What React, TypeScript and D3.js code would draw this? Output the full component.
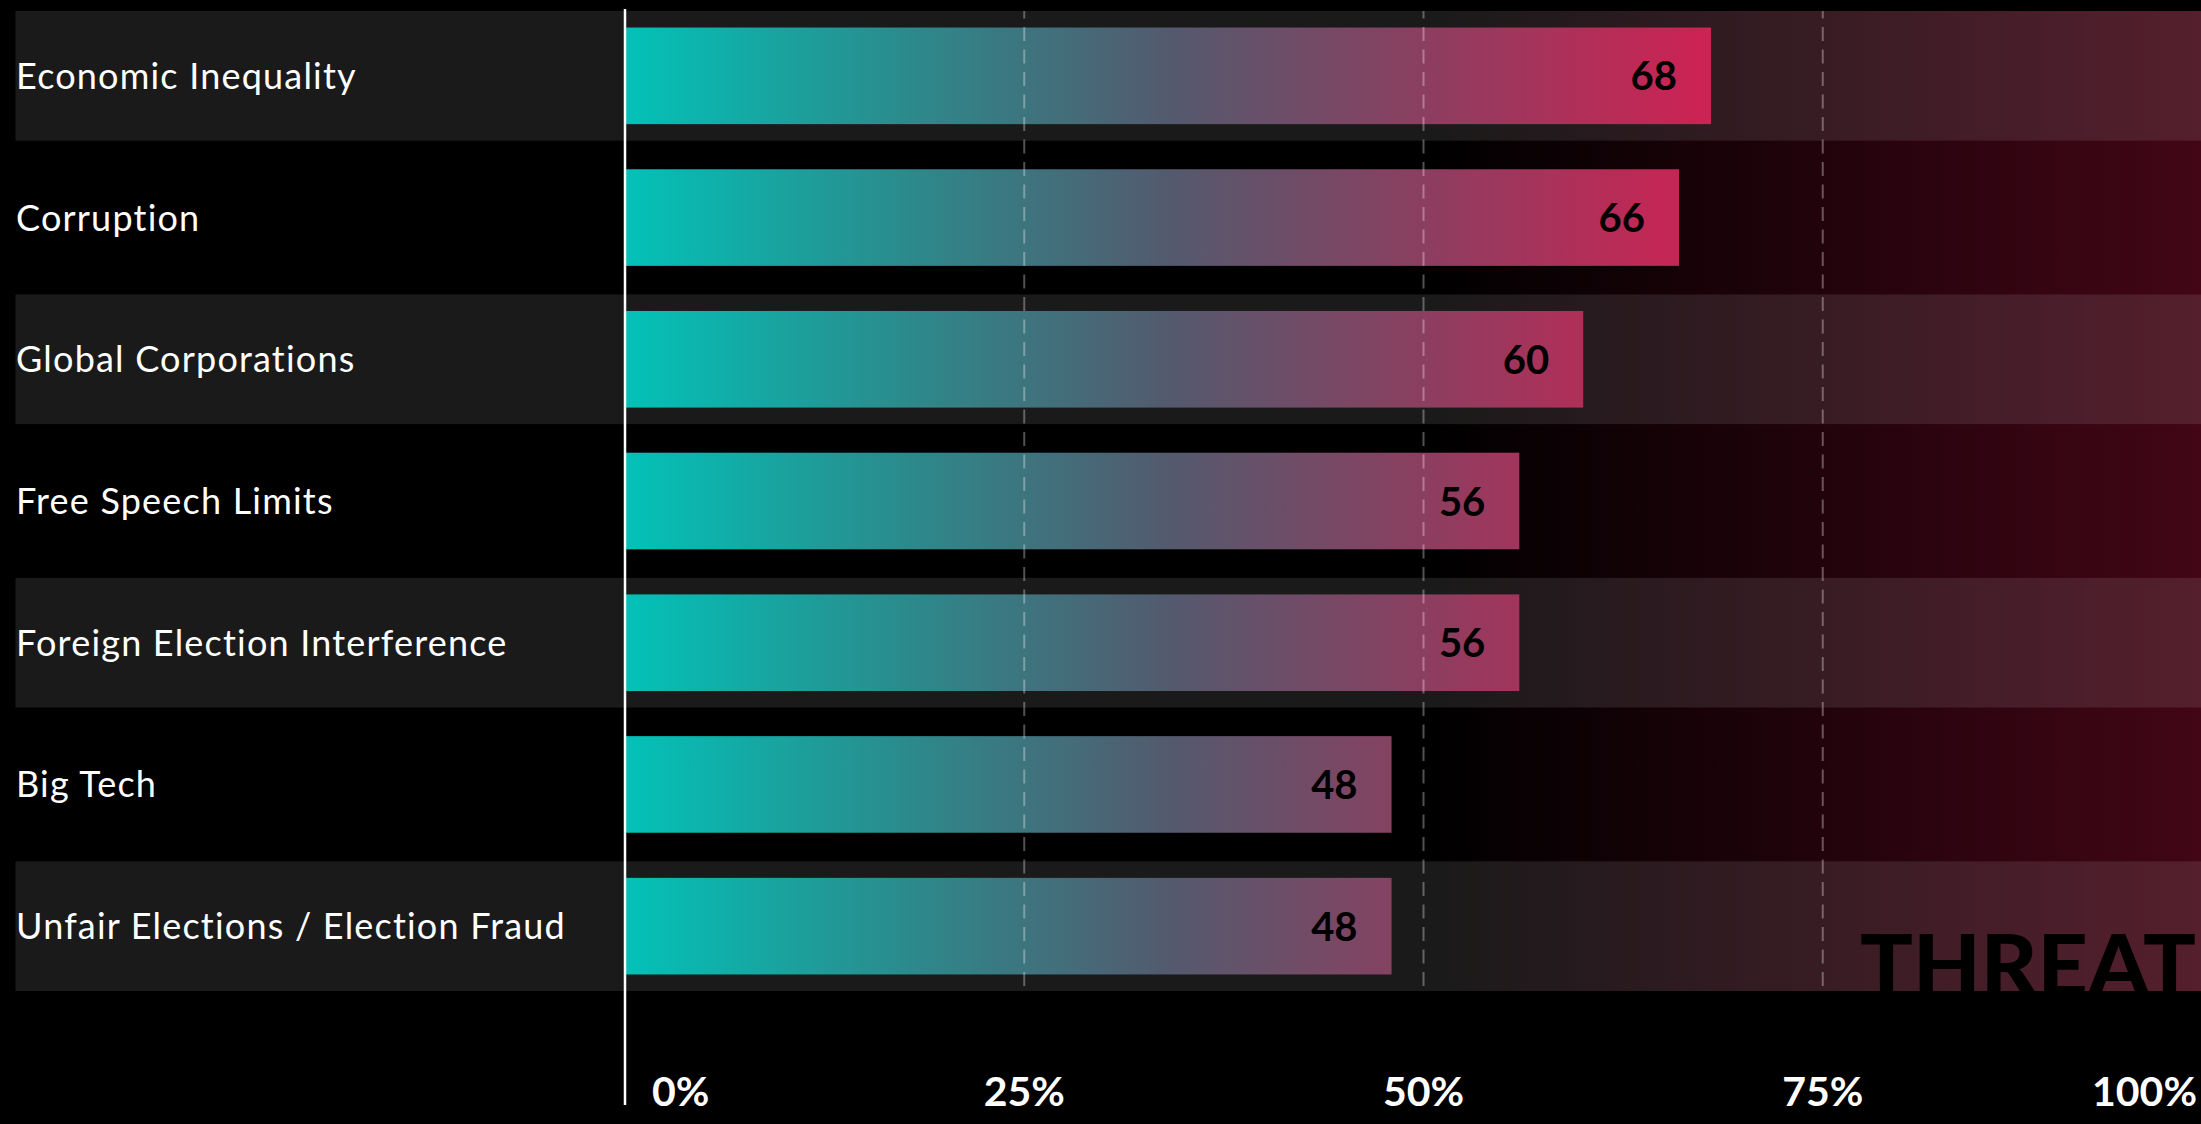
import React from "react";
import * as d3 from "d3";

const categories = [
  "Economic Inequality",
  "Corruption",
  "Global Corporations",
  "Free Speech Limits",
  "Foreign Election Interference",
  "Big Tech",
  "Unfair Elections / Election Fraud",
];
const values = [68, 66, 60, 56, 56, 48, 48];
const tickValues = [0, 25, 50, 75, 100];
const tickLabels = ["0%", "25%", "50%", "75%", "100%"];
const gridValues = [25, 50, 75, 100];
const watermark = "THREAT";

const W = 2201;
const H = 1124;

export default function App() {
  const x = d3.scaleLinear().domain([0, 100]).range([625, 2222]);
  const y = d3
    .scaleBand<string>()
    .domain(categories)
    .range([11, 991])
    .paddingInner(0.085)
    .paddingOuter(0);
  const bw = y.bandwidth();
  const barH = bw * 0.745;
  const maxV = d3.max(values) as number;
  const labelFont = "Lato, 'Open Sans', sans-serif";

  return (
    <div style={{ position: "absolute", left: 0, top: 0, width: W, height: H, background: "#000", overflow: "hidden" }}>
      <svg width={W} height={H} style={{ display: "block" }}>
        <defs>
          <linearGradient id="bgGrad" gradientUnits="userSpaceOnUse" x1={x(50)} x2={x(100)} y1={0} y2={0}>
            <stop offset="0" stopColor="#000000" />
            <stop offset="1" stopColor="#440617" />
          </linearGradient>
          <linearGradient id="barGrad" gradientUnits="userSpaceOnUse" x1={x(0)} x2={x(maxV)} y1={0} y2={0}>
            <stop offset="0" stopColor="#02c2b8" />
            <stop offset="0.25" stopColor="#2a8c8d" />
            <stop offset="0.5" stopColor="#535a6e" />
            <stop offset="0.75" stopColor="#8f3d5f" />
            <stop offset="1" stopColor="#ce2253" />
          </linearGradient>
        </defs>
        <rect x={0} y={0} width={W} height={H} fill="#000" />
        <rect x={0} y={11} width={W} height={980} fill="url(#bgGrad)" />
        {categories.map((c, i) =>
          i % 2 === 0 ? (
            <rect key={"band" + c} x={15.5} y={y(c)} width={W} height={bw} fill="#ffffff" fillOpacity={0.1} />
          ) : null
        )}
        {categories.map((c) => (
          <text
            key={"lab" + c}
            x={16}
            y={(y(c) as number) + bw / 2 + 13}
            fill="#ffffff"
            fontFamily={labelFont}
            fontSize={36}
            fontWeight={400}
            letterSpacing={1.2}
          >
            {c}
          </text>
        ))}
        {categories.map((c, i) => (
          <rect
            key={"bar" + c}
            x={x(0)}
            y={(y(c) as number) + (bw - barH) / 2}
            width={x(values[i]) - x(0)}
            height={barH}
            fill="url(#barGrad)"
          />
        ))}
        {gridValues.map((g) => (
          <line
            key={"g" + g}
            x1={x(g)}
            x2={x(g)}
            y1={11}
            y2={991}
            stroke="#ffffff"
            strokeOpacity={0.32}
            strokeWidth={2}
            strokeDasharray="14 8.5"
            strokeDashoffset={6.5}
          />
        ))}
        {categories.map((c, i) => (
          <text
            key={"val" + c}
            x={x(values[i]) - 34}
            y={(y(c) as number) + bw / 2 + 14.5}
            textAnchor="end"
            fill="#000000"
            fontFamily={labelFont}
            fontSize={40}
            fontWeight={700}
          >
            {values[i]}
          </text>
        ))}
        <text
          x={2196}
          y={996}
          textAnchor="end"
          fill="#000000"
          fontFamily={labelFont}
          fontSize={86}
          fontWeight={900}
          textLength={336}
          lengthAdjust="spacingAndGlyphs"
        >
          {watermark}
        </text>
        <line x1={x(0)} x2={x(0)} y1={9} y2={1105} stroke="#ffffff" strokeWidth={2.5} />
        {tickValues.map((t, i) => {
          const last = i === tickValues.length - 1;
          const first = i === 0;
          const tx = first ? x(t) + 27 : last ? W - 4 : x(t);
          const anchor = first ? "start" : last ? "end" : "middle";
          return (
            <text
              key={"t" + t}
              x={tx}
              y={1106}
              textAnchor={anchor}
              fill="#ffffff"
              fontFamily={labelFont}
              fontSize={41}
              fontWeight={700}
            >
              {tickLabels[i]}
            </text>
          );
        })}
      </svg>
    </div>
  );
}
